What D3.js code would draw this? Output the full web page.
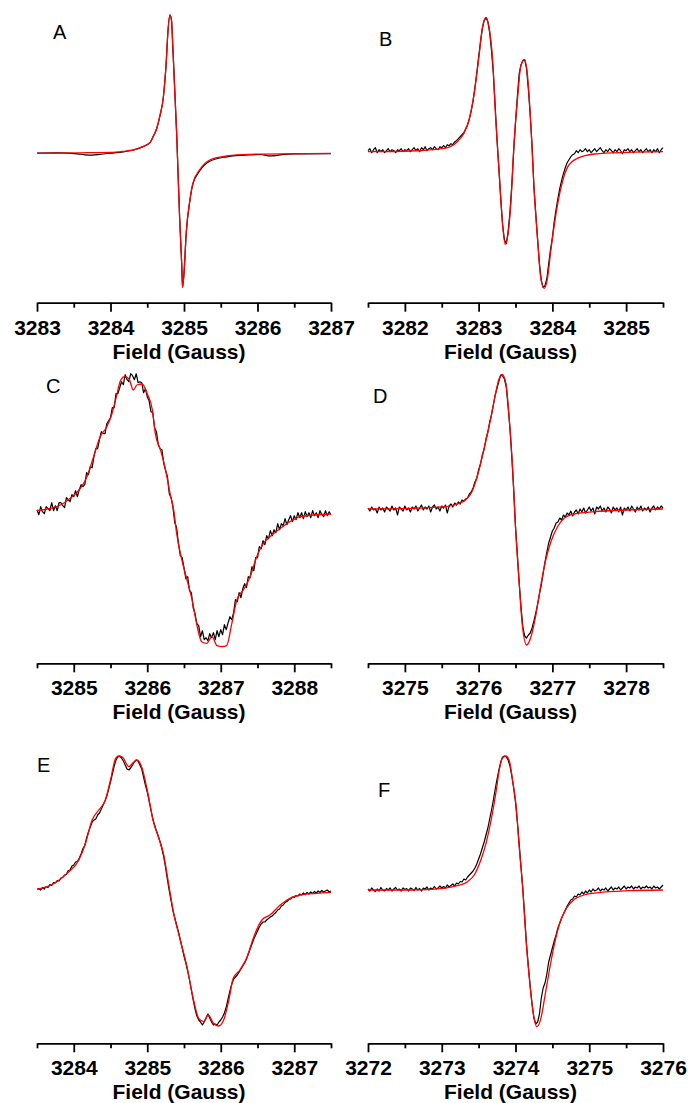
<!DOCTYPE html>
<html><head><meta charset="utf-8">
<script src="https://cdn.jsdelivr.net/npm/d3@7"></script>
<style>body{margin:0;background:#fff}svg{display:block}</style>
</head><body>
<svg id="chart" width="688" height="1103"></svg>
<script>
// ---------------- DATA (field in Gauss, EPR signal in arbitrary units) ----------------
// Panel A (smooth traces given as read-off points)
const fieldA_exp = [3283.00,3283.30,3283.55,3283.65,3283.75,3283.85,3283.95,3284.05,3284.17,3284.31,3284.44,3284.54,3284.58,3284.63,3284.67,3284.72,3284.76,3284.78,3284.81,3284.83,3284.85,3284.90,3284.94,3284.97,3284.98,3285.00,3285.03,3285.08,3285.12,3285.21,3285.35,3285.58,3285.89,3286.05,3286.15,3286.25,3286.35,3286.50,3287.00];
const expA = [0.3,0.5,-0.5,-1.5,-1.8,-1.2,-0.2,0.5,1.5,3.3,6.7,11,16.7,25,36.6,56.6,93.3,120,138.3,133,103,20,-63.4,-113,-134,-120,-80,-47.5,-31,-18,-8,-3.5,-1.5,-1.2,-2.5,-2.3,-1,-0.5,-0.3];
const fieldA_fit = [3283.00,3283.58,3284.00,3284.17,3284.31,3284.44,3284.54,3284.58,3284.63,3284.67,3284.72,3284.76,3284.78,3284.81,3284.83,3284.85,3284.90,3284.94,3284.97,3284.98,3285.00,3285.03,3285.08,3285.12,3285.21,3285.35,3285.58,3285.89,3287.00];
const fitA = [0,0.5,1,2,3.3,6.7,11,16.7,25,36.6,56.6,93.3,120,138.3,133,103,20,-63.4,-113,-134,-120,-80,-46.7,-30,-16.7,-6.7,-2.7,-1,0];

// Panels B-F: experimental traces are 161-point sweeps over the listed field range
const sweepB = [3281.5, 3285.5];
const expB = [1,3,-1,2,4,-1,2,0,2,-1, 1,3,0,2,1,-1,2,1,3,0, 2,1,3,0,2,4,1,3,0,4, 2,5,1,3,4,2,5,3,2,5,
 4,6,4,7,6,8,7,10,11,13, 15,17,19,23,27,33,41,51,64,79, 95,110,123,131,134,130,119,101,78,45,
 11,-18,-47,-73,-88,-92,-80,-60,-33,0, 29,55,78,87,91,92,83,62,36,5, -35,-62,-88,-112,-129,-136,-134,-127,-112,-98,
 -86,-70,-58,-47,-37,-29,-22,-16,-11,-8, -5,-3,-2,1,-1,2,0,1,3,0, 2,-1,1,3,0,2,4,1,-1,2,
 0,3,1,-1,2,0,3,1,-2,2, 1,3,0,2,-1,1,3,0,2,-1, 1,3,0,2,-1,2,0,3,-1,2, 4];
const fieldB_fit = [3281.50,3282.08,3282.53,3282.71,3282.80,3282.87,3282.94,3283.01,3283.05,3283.10,3283.14,3283.19,3283.23,3283.28,3283.32,3283.36,3283.40,3283.44,3283.48,3283.53,3283.57,3283.62,3283.66,3283.71,3283.75,3283.80,3283.84,3283.89,3283.93,3283.98,3284.05,3284.12,3284.21,3284.34,3284.57,3285.02,3285.50];
const fitB = [0,0.7,3.3,10,18.3,31.7,58.3,98.3,123.3,134.3,125,91.7,35,-21.7,-68.3,-92.7,-81.7,-48.3,8.3,55,85,92.3,78.3,25,-35,-88.3,-125,-136.7,-128.3,-98.3,-61.7,-35,-15,-6.7,-2.3,-0.7,0];

const sweepC = [3284.5, 3288.5];
const expC = [2,-3,5,0,-2,5,3,1,9,1, 6,1,9,9,6,4,14,12,10,17, 15,21,15,22,27,25,27,39,37,45, 44,55,63,63,72,80,78,78,88,91,
 94,104,104,118,118,124,130,127,137,132, 130,138,136,132,138,129,130,129,119,123, 115,111,100,99,84,80,67,63,62,48,
 41,35,18,14,4,-11,-16,-32,-44,-46, -56,-67,-65,-79,-81,-96,-102,-112,-114,-125, -119,-128,-126,-129,-122,-126,-121,-128,-119,-125,
 -118,-123,-113,-118,-111,-105,-108,-101,-88,-90, -81,-86,-77,-72,-76,-65,-66,-55,-59,-46, -46,-35,-37,-29,-33,-24,-27,-19,-24,-18,
 -21,-12,-18,-12,-14,-7,-13,-8,-4,-10, -4,-8,-1,-6,-1,-7,0,-5,-1,-6, 1,-4,-1,-6,1,-3,-5,1,-4,0, -3];
const fieldC_fit = [3284.50,3284.68,3284.82,3284.95,3285.09,3285.18,3285.27,3285.36,3285.45,3285.52,3285.59,3285.63,3285.69,3285.75,3285.81,3285.86,3285.93,3286.00,3286.07,3286.11,3286.18,3286.25,3286.31,3286.36,3286.40,3286.47,3286.54,3286.61,3286.68,3286.74,3286.81,3286.88,3286.95,3287.02,3287.08,3287.15,3287.22,3287.31,3287.40,3287.49,3287.58,3287.67,3287.81,3287.94,3288.08,3288.26,3288.50];
const fitC = [1,3.3,6.7,13.3,23.3,35,55,75,85,98,118,130,135,133,121.7,126.7,127.7,118,101.7,78,61.7,41.7,18.3,1.7,-21.7,-48,-68,-88,-115,-130,-131.7,-125,-134,-135,-134,-112,-88,-78,-65,-45,-31.7,-25,-16.7,-10,-5,-3.3,-2.3];

const sweepD = [3274.5, 3278.5];
const expD = [1,-2,2,-1,0,-4,2,-1,1,-3, 2,0,-2,3,-1,1,-6,2,0,-2, 3,-1,1,-3,2,0,3,-2,1,4, -1,2,0,3,-3,2,4,0,2,-2,
 3,1,4,-4,3,5,2,6,4,7, 5,9,8,10,11,15,17,21,27,31, 39,45,54,60,70,77,87,94,104,114,
 121,128,134,133,130,122,102,80,52,20, -18,-45,-74,-98,-118,-127,-129,-126,-124,-119, -112,-104,-95,-85,-76,-64,-53,-43,-34,-28,
 -22,-19,-14,-13,-9,-11,-6,-8,-4,-6, -2,-7,-3,-1,-5,0,-3,1,-4,-1, 2,-2,1,-5,2,0,3,-2,1,-3,
 2,0,-4,2,-1,1,-3,2,-6,1, -1,2,-2,3,0,-3,2,-1,3,-2, 1,-1,2,-3,1,3,-1,2,0,3, 1];
const fieldD_fit = [3274.50,3275.08,3275.53,3275.71,3275.82,3275.91,3275.98,3276.07,3276.16,3276.23,3276.28,3276.32,3276.37,3276.41,3276.46,3276.50,3276.55,3276.59,3276.65,3276.71,3276.78,3276.84,3276.91,3276.98,3277.07,3277.16,3277.30,3277.57,3278.02,3278.50];
const fitD = [0,0.7,2.3,5,9,17.3,32.3,59,89,115.7,130.7,134.7,125.7,95.7,42.3,-17.7,-74.3,-114.3,-136,-127.7,-104.3,-77.7,-51,-32.7,-17.7,-9.3,-5,-2.7,-1,0];

const sweepE = [3283.5, 3287.5];
const expE = [-0.5,0.5,-1,1.5,0,2.5,1.5,4.5,3.5,6.5, 6,8.5,8,11,11.5,14,14.5,18.5,19,23, 24,27,27.5,31,35,40.5,43.5,51,57,62,
 67,69,70,74,76,80,84,88,93,100, 107,115,123,129,132,133,131,128,124,120, 119,121,124,127,129,128,124,120,112,104,
 97,88,79,70,64,58,53,47,40,32, 21,9,-2,-12,-22,-29,-36,-43,-51,-59, -67,-74,-82,-91,-101,-111,-120,-127,-131,-133,
 -136,-133,-129,-125,-129,-133,-136,-135,-136,-133, -131,-128,-124,-118,-110,-102,-95,-90,-88,-86, -83,-80,-77,-74,-70,-65,-60,-55,-50,-46,
 -42,-38,-35,-33,-33,-31,-29.5,-28,-27,-25, -23.5,-21,-20,-17,-16,-13.5,-12.5,-10.5,-10,-8, -8.5,-6.5,-7,-5,-6,-4,-5.5,-3.5,-5,-3,
 -4.5,-2.5,-4,-2,-3.5,-1.5,-3,-2,-1,-3, -2];
const fieldE_fit = [3283.50,3283.64,3283.77,3283.91,3284.07,3284.16,3284.25,3284.34,3284.43,3284.50,3284.57,3284.61,3284.66,3284.75,3284.82,3284.86,3284.93,3285.00,3285.09,3285.15,3285.22,3285.29,3285.36,3285.45,3285.54,3285.63,3285.70,3285.77,3285.83,3285.90,3285.97,3286.04,3286.11,3286.17,3286.26,3286.36,3286.45,3286.56,3286.67,3286.81,3286.94,3287.08,3287.31,3287.50];
const fitE = [-0.3,2.3,7.3,15.7,29,45.7,69,79,89,109,130.7,133,132,122.3,127.3,129,120.7,99,65.7,52.3,35.7,5.7,-24.3,-51,-77.7,-111,-129.3,-132.7,-126,-134.3,-137,-131,-111,-89.3,-81,-67.7,-47.7,-31,-26,-16,-9.3,-6,-4.3,-3.3];

const sweepF = [3272, 3276];
const expF = [1,-1,2,0,-1.5,1,-1,2.5,0,-1, 1.5,0,2,-1,1,2.5,0,1,-1,2, 0.5,1.5,-1,2,1,-0.5,2.5,0,1.5,-1, 2,1,3,0,2,1,3.5,1,2,4,
 2,3.5,2,5,3,4.5,6,4,7,6, 8.5,8,11,10,13,15,17,19,22,26, 31,36,42,48,55,62,71,80,90,101,
 111,120,128,133,134,133,130,124,114,102, 88,68,46,23,0,-27,-55,-77,-97,-114, -128,-134,-132,-124,-108,-98,-93,-84,-72,-65,
 -58,-51,-45,-38,-33,-28,-24,-20,-16,-13, -10,-9,-6,-7,-4,-5,-2,-4,-1,-3, 0,-2,1,-1,0,2,-1,1,0,2,
 -1,1,3,0,2,1,3,0,2,4, 1,3,2,4,1,3,2,4,1,3, 2,4,2,3,1,4,2,3,1,3, 5];
const fieldF_fit = [3272.00,3272.58,3273.03,3273.21,3273.35,3273.44,3273.53,3273.60,3273.67,3273.74,3273.78,3273.82,3273.87,3273.92,3273.96,3274.01,3274.05,3274.10,3274.14,3274.19,3274.24,3274.29,3274.35,3274.39,3274.46,3274.53,3274.60,3274.69,3274.80,3274.93,3275.12,3275.52,3276.00];
const fitF = [0,0,1.7,4.3,8.3,15,30,46.7,70,100,120,131.7,134,128.3,110,83,43.3,0,-46.7,-90,-123,-136.7,-126.7,-110,-80,-53.3,-33.3,-18.3,-9.3,-5,-2.7,-0.7,0];

// axis ranges and tick labels (Gauss)
const domainA = [3283, 3287], ticksA = [3283, 3284, 3285, 3286, 3287];
const domainB = sweepB, ticksB = [3282, 3283, 3284, 3285];
const domainC = sweepC, ticksC = [3285, 3286, 3287, 3288];
const domainD = sweepD, ticksD = [3275, 3276, 3277, 3278];
const domainE = sweepE, ticksE = [3284, 3285, 3286, 3287];
const domainF = sweepF, ticksF = [3272, 3273, 3274, 3275, 3276];
const panelLabels = ["A", "B", "C", "D", "E", "F"];
const axisTitle = "Field (Gauss)";

// ---------------- helpers ----------------
function pairs(xs, ys) { return xs.map((x, i) => [x, ys[i]]); }
function sweepPairs(range, ys) {
  const idx = d3.scaleLinear().domain([0, ys.length - 1]).range(range);
  return ys.map((y, i) => [idx(i), y]);
}

// ---------------- layout ----------------
const FONT = "'Liberation Sans', Arial, Helvetica, sans-serif";
const panels = [
  {label: panelLabels[0], domain: domainA, ticks: ticksA, exp: pairs(fieldA_exp, expA), fit: pairs(fieldA_fit, fitA), smoothExp: true,
   x0: 37, x1: 331, yTop: 13.3, yBot: 293.3, axisY: 302.7, lx: 53, ly: 39},
  {label: panelLabels[1], domain: domainB, ticks: ticksB, exp: sweepPairs(sweepB, expB), fit: pairs(fieldB_fit, fitB),
   x0: 368, x1: 663, yTop: 11.7, yBot: 291.7, axisY: 302.7, lx: 379, ly: 46},
  {label: panelLabels[2], domain: domainC, ticks: ticksC, exp: sweepPairs(sweepC, expC), fit: pairs(fieldC_fit, fitC),
   x0: 37, x1: 331, yTop: 371.7, yBot: 651.7, axisY: 663.3, lx: 46, ly: 393},
  {label: panelLabels[3], domain: domainD, ticks: ticksD, exp: sweepPairs(sweepD, expD), fit: pairs(fieldD_fit, fitD),
   x0: 368, x1: 663, yTop: 369, yBot: 649, axisY: 663.3, lx: 373, ly: 403},
  {label: panelLabels[4], domain: domainE, ticks: ticksE, exp: sweepPairs(sweepE, expE), fit: pairs(fieldE_fit, fitE),
   x0: 37, x1: 331, yTop: 749, yBot: 1029, axisY: 1043.3, lx: 37, ly: 772},
  {label: panelLabels[5], domain: domainF, ticks: ticksF, exp: sweepPairs(sweepF, expF), fit: pairs(fieldF_fit, fitF),
   x0: 368, x1: 663, yTop: 750, yBot: 1030, axisY: 1043.3, lx: 378, ly: 797}
];

const svg = d3.select("#chart");
svg.append("rect").attr("width", 688).attr("height", 1103).attr("fill", "#fff");

panels.forEach(p => {
  const x = d3.scaleLinear().domain(p.domain).range([p.x0, p.x1]);
  const y = d3.scaleLinear().domain([-140, 140]).range([p.yBot, p.yTop]);
  const g = svg.append("g");

  const lineExp = d3.line().x(d => x(d[0])).y(d => y(d[1]))
    .curve(p.smoothExp ? d3.curveMonotoneX : d3.curveLinear);
  const lineFit = d3.line().x(d => x(d[0])).y(d => y(d[1])).curve(d3.curveMonotoneX);

  g.append("path").attr("d", lineExp(p.exp)).attr("fill", "none")
    .attr("stroke", "#000").attr("stroke-width", 1.2).attr("stroke-linejoin", "round");
  g.append("path").attr("d", lineFit(p.fit)).attr("fill", "none")
    .attr("stroke", "#ff0000").attr("stroke-width", 1.3).attr("stroke-linejoin", "round");

  // minor ticks at half-gauss positions
  const minors = [];
  for (let v = Math.ceil(p.domain[0] * 2) / 2; v <= p.domain[1] + 1e-9; v += 0.5) {
    if (Math.abs(v - Math.round(v)) > 1e-6) minors.push(v);
  }
  const minorAxis = d3.axisBottom(x).tickValues(minors).tickSize(5).tickSizeOuter(0).tickFormat("");
  const majorAxis = d3.axisBottom(x).tickValues(p.ticks).tickSize(9).tickSizeOuter(0)
    .tickPadding(8).tickFormat(d3.format("d"));

  const gm = g.append("g").attr("transform", `translate(0,${p.axisY})`).call(minorAxis);
  gm.select(".domain").remove();
  const ga = g.append("g").attr("transform", `translate(0,${p.axisY})`).call(majorAxis);
  [gm, ga].forEach(a => {
    a.selectAll("line").attr("stroke", "#000").attr("stroke-width", 1.8);
  });
  ga.select(".domain").attr("stroke", "#000").attr("stroke-width", 1.8);
  ga.selectAll("text").attr("fill", "#000")
    .style("font-family", FONT).style("font-size", "21px").style("font-weight", "bold");

  g.append("text").attr("x", (p.x0 + p.x1) / 2 - 5).attr("y", p.axisY + 56)
    .attr("text-anchor", "middle").attr("fill", "#000")
    .style("font-family", FONT).style("font-size", "21px").style("font-weight", "bold")
    .text(axisTitle);

  g.append("text").attr("x", p.lx).attr("y", p.ly).attr("fill", "#000")
    .style("font-family", FONT).style("font-size", "20px")
    .text(p.label);
});
</script>
</body></html>
